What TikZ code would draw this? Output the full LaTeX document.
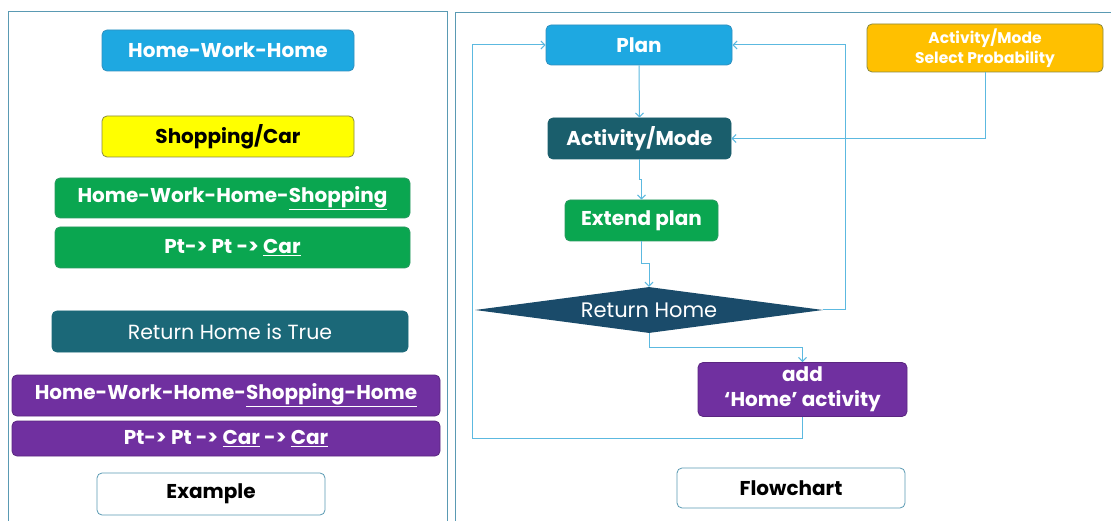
\documentclass[tikz,border=0pt]{standalone}
\usepackage{fontspec}
\setmainfont{Poppins}
\usetikzlibrary{shapes.geometric,arrows.meta}
\definecolor{cblue}{HTML}{1EA8E1}
\definecolor{cblueb}{HTML}{2F8FBF}
\definecolor{cyellow}{HTML}{FFFF00}
\definecolor{colive}{HTML}{8A8A40}
\definecolor{cgreen}{HTML}{0AA650}
\definecolor{cgreenb}{HTML}{2A9A60}
\definecolor{cteal}{HTML}{1B6878}
\definecolor{cteald}{HTML}{1A5E6C}
\definecolor{cnavy}{HTML}{1A4B6A}
\definecolor{cpurple}{HTML}{7030A0}
\definecolor{corange}{HTML}{FFC000}
\definecolor{cline}{HTML}{5CB9E0}
\definecolor{cframe}{HTML}{5A9AB3}
\begin{document}
\begin{tikzpicture}[x=1pt,y=-1pt,
  box/.style={rounded corners=5pt, draw, line width=0.8pt, inner sep=0pt, align=center, font=\fontsize{20}{25}\selectfont\bfseries, text=white},
  bluebox/.style={box, fill=cblue, draw=cblueb},
  yellowbox/.style={box, fill=cyellow, draw=colive, text=black},
  greenbox/.style={box, fill=cgreen, draw=cgreenb},
  tealbox/.style={box, fill=cteal, draw=cteal, font=\fontsize{20.5}{25}\selectfont},
  darktealbox/.style={box, fill=cteald, draw=cteald},
  purplebox/.style={box, fill=cpurple, draw=cpurple!80!black},
  orangebox/.style={box, fill=corange, draw=colive, font=\fontsize{15.5}{20}\selectfont\bfseries},
  whitebox/.style={box, fill=white, draw=cframe, text=black},
  conn/.style={draw=cline, line width=1pt},
  arr/.style={conn, -{Straight Barb[length=4pt,width=8pt]}},
  frame/.style={draw=cframe, line width=1pt}
]
\useasboundingbox (0,0) rectangle (1111,521);
\fill[white] (0,0) rectangle (1111,521);
\draw[frame] (8,12) rectangle (447,530);
\draw[frame] (455,13) rectangle (1120,530);

% left panel
\node[bluebox, minimum width=252pt, minimum height=41pt] (hwh) at (228,50.5) {Home-Work-Home};
\node[yellowbox, minimum width=252pt, minimum height=41pt] (shop) at (228,136.5) {Shopping/Car};
\node[greenbox, minimum width=355pt, minimum height=40pt] (hwhs) at (232.5,198) {Home-Work-Home-\underline{Shopping}};
\node[greenbox, minimum width=355pt, minimum height=41pt] (ptcar) at (232.5,247.5) {Pt-> Pt -> \underline{Car}};
\node[tealbox, minimum width=356pt, minimum height=41pt] (rht) at (230,331.5) {Return Home is True};
\node[purplebox, minimum width=428pt, minimum height=41pt] (hwhsh) at (226,395.5) {Home-Work-Home-\underline{Shopping-Home}};
\node[purplebox, minimum width=428pt, minimum height=35pt] (ptcarcar) at (226,438.5) {Pt-> Pt -> \underline{Car} -> \underline{Car}};
\node[whitebox, minimum width=228pt, minimum height=42pt] (example) at (211,494) {Example};

% right panel
\node[bluebox, minimum width=186pt, minimum height=40pt] (plan) at (639,45) {Plan};
\node[orangebox, minimum width=236pt, minimum height=48pt] (prob) at (985,48) {Activity/Mode\\Select Probability};
\node[darktealbox, minimum width=183pt, minimum height=41pt] (am) at (639.5,138.5) {Activity/Mode};
\node[greenbox, minimum width=153pt, minimum height=41pt] (ext) at (641.5,220.5) {Extend plan};
\node[diamond, fill=cnavy, inner sep=0pt, minimum width=348pt, minimum height=46pt, aspect=7.5, text=white, font=\fontsize{21}{25}\selectfont] (ret) at (649,310) {Return Home};
\node[purplebox, minimum width=209pt, minimum height=54pt] (add) at (802.5,389.5) {add\\‘Home’ activity};
\node[whitebox, minimum width=228pt, minimum height=40pt] (flow) at (791,488) {Flowchart};

\coordinate (rr) at (845,310);
\coordinate (bl) at (472,438);

\draw[arr] (plan.south) -- (am.north);
\draw[arr] (am.south) -- ++(0,20) -| (ext.north);
\draw[arr] (ext.south) -- ++(0,22) -| (ret.north);
\draw[arr] (ret.east) -- (rr) |- (plan.east);
\draw[arr] (prob.south) |- (am.east);
\draw[arr] (ret.south) -- ++(0,14) -| (add.north);
\draw[arr] (add.south) |- (bl) |- (plan.west);
\end{tikzpicture}
\end{document}
